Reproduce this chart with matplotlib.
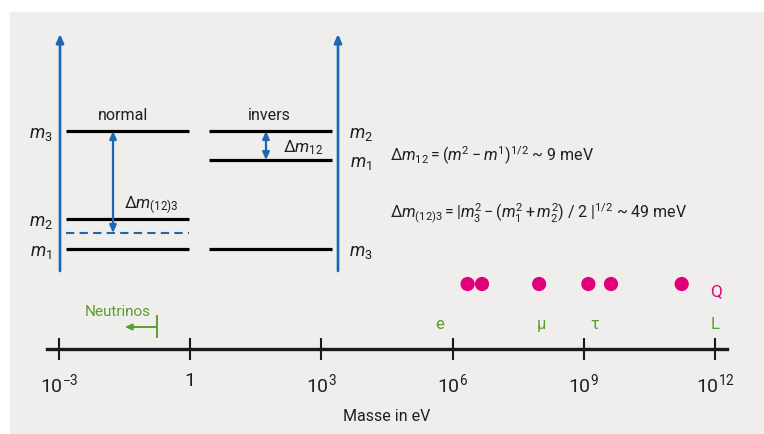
import matplotlib
matplotlib.use("Agg")
import matplotlib.pyplot as plt
from matplotlib.patches import Rectangle

FONT = ['Roboto', 'DejaVu Sans']
plt.rcParams['font.family'] = FONT
plt.rcParams['mathtext.fontset'] = 'custom'
plt.rcParams['mathtext.rm'] = 'Roboto'
plt.rcParams['mathtext.it'] = 'Roboto:italic'
plt.rcParams['mathtext.bf'] = 'Roboto:bold'

# ---- data ----
level_names = ['m1', 'm2', 'm3']
normal_levels = [0.0, 0.254, 1.0]       # schematic mass levels (normal ordering)
normal_mean12 = 0.136                   # mean of m1, m2 (dashed)
inverse_levels = [0.754, 1.0, 0.0]      # m1, m2, m3 (inverted ordering)

tick_values = [1e-3, 1, 1e3, 1e6, 1e9, 1e12]
tick_labels = [r'$10^{-3}$', '1', r'$10^{3}$', r'$10^{6}$', r'$10^{9}$', r'$10^{12}$']

quark_masses = [2.2e6, 4.7e6, 9.5e7, 1.27e9, 4.18e9, 1.73e11]
lepton_names = ['e', 'μ', 'τ', 'L']
lepton_masses = [0.511e6, 1.057e8, 1.777e9, 1e12]
neutrino_limit = 0.17
neutrino_arrow_end = 0.032

BG = '#efeeec'
BLUE = '#1b68b1'
MAGENTA = '#e2007a'
GREEN = '#5a9f2d'
TXT = '#231f20'

W, H = 764, 435
fig = plt.figure(figsize=(W / 100, H / 100), dpi=100)
fig.patches.append(Rectangle((10 / W, 0), (W - 10) / W, (H - 13) / H,
                             transform=fig.transFigure, color=BG, zorder=-10))

# ---- level diagram ----
ax = fig.add_axes([0, (H - 272) / H, 1, 237 / H])
ax.set_xlim(0, W)
ax.set_ylim(-0.186, 1.822)
ax.axis('off')

for x0 in (60, 338):
    ax.annotate('', xy=(x0, 1.822), xytext=(x0, -0.186),
                arrowprops=dict(arrowstyle='-|>,head_length=0.5,head_width=0.22',
                                color=BLUE, lw=1.9, shrinkA=0, shrinkB=0))

for name, lv in zip(level_names, normal_levels):
    ax.plot([66, 189], [lv, lv], color='black', lw=2.3, solid_capstyle='butt')
    ax.text(41, lv - 0.02, '$%s_%s$' % (name[0], name[1]), fontsize=13, color=TXT,
            ha='center', va='center')
ax.plot([66, 189], [normal_mean12, normal_mean12], color=BLUE, lw=1.5,
        dashes=(4, 2.5))
for name, lv in zip(level_names, inverse_levels):
    ax.plot([209, 332], [lv, lv], color='black', lw=2.3, solid_capstyle='butt')
    ax.text(361, lv - 0.02, '$%s_%s$' % (name[0], name[1]), fontsize=13, color=TXT,
            ha='center', va='center')

ax.text(123, 1.136, 'normal', fontsize=11.5, color=TXT, ha='center', va='center')
ax.text(269, 1.136, 'invers', fontsize=11.5, color=TXT, ha='center', va='center')

arr = dict(arrowstyle='<|-|>,head_length=0.45,head_width=0.2', color=BLUE, lw=1.6,
           shrinkA=0, shrinkB=0)
ax.annotate('', xy=(113, normal_levels[2]), xytext=(113, normal_mean12), arrowprops=arr)
ax.annotate('', xy=(266, inverse_levels[1]), xytext=(266, inverse_levels[0]), arrowprops=arr)
ax.text(124, 0.38, r'$\Delta m_{(12)3}$', fontsize=12, color=TXT, ha='left', va='center')
ax.text(283, 0.864, r'$\Delta m_{12}$', fontsize=12, color=TXT, ha='left', va='center')

ax.text(390, 0.80, r'$\Delta m_{12} = (m^2 - m^1)^{1/2}$ ~ 9 meV', fontsize=11.5,
        color=TXT, ha='left', va='center')
ax.text(390, 0.31, r'$\Delta m_{(12)3} = |m_3^2 - (m_1^2 + m_2^2)\;/\;2\;|^{1/2}$ ~ 49 meV',
        fontsize=11.5, color=TXT, ha='left', va='center')

# ---- mass scale ----
bx = fig.add_axes([47 / W, (H - 350) / H, 680 / W, 78 / H])
bx.set_facecolor('none')
bx.set_xscale('log')
bx.set_xlim(10 ** -3.274, 10 ** 12.274)
bx.set_ylim(0, 78)
for s in ('top', 'left', 'right'):
    bx.spines[s].set_visible(False)
bx.spines['bottom'].set_linewidth(2.4)
bx.spines['bottom'].set_color('#1a1a1a')
bx.set_yticks([])
bx.set_xticks(tick_values)
bx.set_xticklabels(tick_labels)
bx.xaxis.set_minor_locator(matplotlib.ticker.NullLocator())
bx.tick_params(axis='x', direction='inout', length=16, width=1.5, pad=8,
               labelsize=14, labelcolor=TXT, color='#1a1a1a')
bx.set_xlabel('Masse in eV', fontsize=11.5, color=TXT, labelpad=9)

bx.scatter(quark_masses, [65] * len(quark_masses), s=105, color=MAGENTA,
           edgecolors='none', clip_on=False)
bx.text(10 ** 12.02, 58, 'Q', fontsize=12.5, color=MAGENTA, ha='center', va='center')
for name, m in zip(lepton_names, lepton_masses):
    bx.text(m, 25, name, fontsize=12, color=GREEN, ha='center', va='center')

bx.plot([neutrino_limit, neutrino_limit], [12, 33], color=GREEN, lw=1.4)
bx.annotate('', xy=(neutrino_arrow_end, 22), xytext=(neutrino_limit, 22),
            arrowprops=dict(arrowstyle='-|>,head_length=0.4,head_width=0.18',
                            color=GREEN, lw=1.4, shrinkA=0, shrinkB=0))
bx.text(10 ** -1.65, 38, 'Neutrinos', fontsize=11, color=GREEN, ha='center', va='center')

fig.savefig('out.png', dpi=100, facecolor='white')
